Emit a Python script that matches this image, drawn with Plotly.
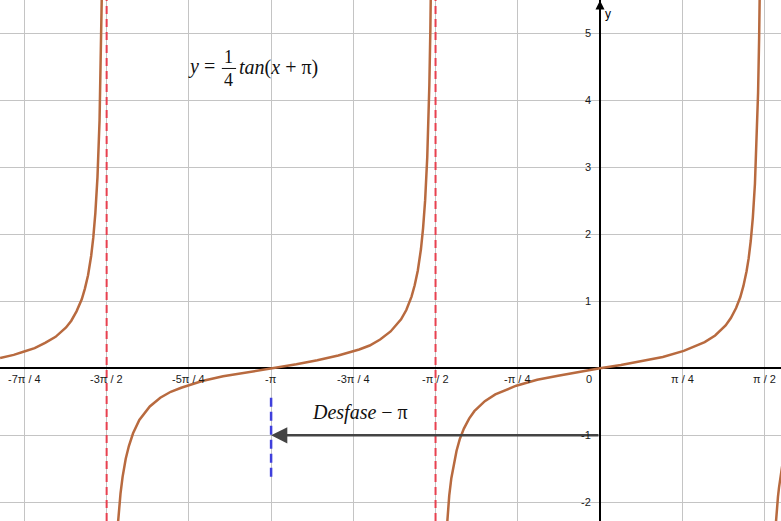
import math
import plotly.graph_objects as go

# ramas de y = 1/4 tan(x + pi)
rama1_x = [-5.73, -5.60, -5.50, -5.40, -5.30, -5.20, -5.10, -5.05, -5.00, -4.95,
           -4.92, -4.89, -4.86, -4.84, -4.82, -4.80, -4.78, -4.77, -4.76, -4.755]
rama1_y = [0.155, 0.20, 0.25, 0.30, 0.38, 0.47, 0.61, 0.71, 0.85, 1.03,
           1.19, 1.39, 1.68, 1.95, 2.32, 2.85, 3.70, 4.34, 5.26, 5.88]

rama2_x = [-4.61, -4.60, -4.58, -4.56, -4.53, -4.50, -4.46, -4.40, -4.30, -4.20,
           -4.10, -4.00, -3.80, -3.60, -3.40, -3.14, -2.90, -2.70, -2.50, -2.30,
           -2.20, -2.10, -2.00, -1.90, -1.85, -1.80, -1.77, -1.74, -1.71, -1.69,
           -1.67, -1.65, -1.64, -1.63, -1.62, -1.61]
rama2_y = [-2.42, -2.21, -1.87, -1.62, -1.35, -1.16, -0.97, -0.77, -0.57, -0.44,
           -0.35, -0.29, -0.19, -0.12, -0.07, 0.0, 0.06, 0.12, 0.19, 0.28,
           0.34, 0.43, 0.55, 0.73, 0.87, 1.07, 1.24, 1.46, 1.78, 2.09,
           2.51, 3.15, 3.61, 4.22, 5.08, 6.38]

rama3_x = [-1.48, -1.46, -1.44, -1.42, -1.40, -1.37, -1.34, -1.30, -1.25, -1.20,
           -1.10, -1.00, -0.80, -0.60, -0.40, -0.20, 0.0, 0.20, 0.40, 0.60,
           0.80, 1.00, 1.10, 1.20, 1.25, 1.30, 1.34, 1.37, 1.40, 1.42,
           1.44, 1.46, 1.48, 1.50, 1.51, 1.52, 1.53]
rama3_y = [-2.75, -2.25, -1.90, -1.64, -1.45, -1.23, -1.06, -0.90, -0.75, -0.64,
           -0.49, -0.39, -0.26, -0.17, -0.11, -0.05, 0.0, 0.05, 0.11, 0.17,
           0.26, 0.39, 0.49, 0.64, 0.75, 0.90, 1.06, 1.23, 1.45, 1.64,
           1.90, 2.25, 2.75, 3.53, 4.11, 4.92, 6.10]

rama4_x = [1.67, 1.68, 1.69, 1.70, 1.71, 1.72, 1.73, 1.74]
rama4_y = [-2.51, -2.28, -2.09, -1.92, -1.78, -1.66, -1.56, -1.46]

# asintotas (rojas) y desfase
asintotas_x = [-3 * math.pi / 2, -math.pi / 2]
desfase_x = [-math.pi, -math.pi]
desfase_y = [-0.44, -1.64]
flecha_inicio = (0, -1)
flecha_fin = (-math.pi, -1)

# ticks
x_ticks = [k * math.pi / 4 for k in range(-7, 3)]
x_labels = ["-7π / 4", "-3π / 2", "-5π / 4", "-π", "-3π / 4", "-π / 2", "-π / 4", "0", "π / 4", "π / 2"]
y_ticks = [-2, -1, 1, 2, 3, 4, 5]
y_labels = ["-2", "-1", "1", "2", "3", "4", "5"]

COLOR_CURVA = "#b86a3f"
FUENTE_EJES = "Liberation Sans"
FUENTE_MATE = "Liberation Serif"

fig = go.Figure()

for xs, ys in [(rama1_x, rama1_y), (rama2_x, rama2_y), (rama3_x, rama3_y), (rama4_x, rama4_y)]:
    fig.add_trace(go.Scatter(x=xs, y=ys, mode="lines",
                             line=dict(color=COLOR_CURVA, width=2.5),
                             hoverinfo="skip", showlegend=False))

for xa in asintotas_x:
    fig.add_vline(x=xa, line=dict(color="#e8404f", width=2, dash="8px,5px"))

fig.add_trace(go.Scatter(x=desfase_x, y=desfase_y, mode="lines",
                         line=dict(color="#3f3fdc", width=2.5, dash="9px,5px"),
                         hoverinfo="skip", showlegend=False))

anotaciones = []

# flecha del desfase
anotaciones.append(dict(x=flecha_fin[0], y=flecha_fin[1], ax=flecha_inicio[0], ay=flecha_inicio[1],
                        xref="x", yref="y", axref="x", ayref="y", text="",
                        showarrow=True, arrowhead=2, arrowsize=1.3, arrowwidth=2.5,
                        arrowcolor="#444444"))

# flecha del eje y
anotaciones.append(dict(x=0, y=5.49, ax=0, ay=5.0, xref="x", yref="y", axref="x", ayref="y",
                        text="", showarrow=True, arrowhead=2, arrowsize=1.2, arrowwidth=1.5,
                        arrowcolor="black"))
anotaciones.append(dict(x=0.03, y=5.29, xref="x", yref="y", text="y", showarrow=False,
                        xanchor="left", font=dict(family=FUENTE_EJES, size=12, color="black")))

for xv, lab in zip(x_ticks, x_labels):
    if lab == "0":
        anotaciones.append(dict(x=-0.057, y=-0.16, xref="x", yref="y", text=lab, showarrow=False,
                                xanchor="right", font=dict(family=FUENTE_EJES, size=11, color="#1a1a1a")))
    else:
        anotaciones.append(dict(x=xv, y=-0.16, xref="x", yref="y", text=lab, showarrow=False,
                                xanchor="center", font=dict(family=FUENTE_EJES, size=11, color="#1a1a1a")))

for yv, lab in zip(y_ticks, y_labels):
    anotaciones.append(dict(x=-0.065, y=yv, xref="x", yref="y", text=lab, showarrow=False,
                            xanchor="right", font=dict(family=FUENTE_EJES, size=11, color="#1a1a1a")))

# ecuacion y = 1/4 tan(x + pi)
f_mate = dict(family=FUENTE_MATE, size=20, color="#111111")
anotaciones.append(dict(x=-3.655, y=4.50, xref="x", yref="y", text="<i>y</i> =", showarrow=False,
                        xanchor="right", font=f_mate))
anotaciones.append(dict(x=-3.544, y=4.64, xref="x", yref="y", text="1", showarrow=False,
                        font=dict(family=FUENTE_MATE, size=18, color="#111111")))
anotaciones.append(dict(x=-3.544, y=4.30, xref="x", yref="y", text="4", showarrow=False,
                        font=dict(family=FUENTE_MATE, size=18, color="#111111")))
anotaciones.append(dict(x=-3.467, y=4.49, xref="x", yref="y", text="<i>tan</i>(<i>x</i> + π)",
                        showarrow=False, xanchor="left", font=f_mate))

anotaciones.append(dict(x=-2.29, y=-0.66, xref="x", yref="y", text="<i>Desfase</i> − π",
                        showarrow=False, font=f_mate))

fig.add_shape(type="line", x0=-3.612, x1=-3.476, y0=4.475, y1=4.475, xref="x", yref="y",
              line=dict(color="#111111", width=1))

fig.update_layout(
    width=781, height=521,
    margin=dict(l=0, r=0, t=0, b=0),
    plot_bgcolor="white", paper_bgcolor="white",
    showlegend=False,
    annotations=anotaciones,
    xaxis=dict(range=[-5.731, 1.729], tickvals=x_ticks, showticklabels=False, ticks="",
               showgrid=True, gridcolor="#c4c4c4", gridwidth=1,
               zeroline=True, zerolinecolor="black", zerolinewidth=1.5, fixedrange=True),
    yaxis=dict(range=[-2.279, 5.497], tickvals=y_ticks, showticklabels=False, ticks="",
               showgrid=True, gridcolor="#c4c4c4", gridwidth=1,
               zeroline=True, zerolinecolor="black", zerolinewidth=1.5, fixedrange=True),
)

# quitar el margen del body para que el grafico ocupe toda la ventana
fig.write_html("out.html", config={"displayModeBar": False},
               post_script="document.body.style.margin='0';document.body.style.overflow='hidden';")
